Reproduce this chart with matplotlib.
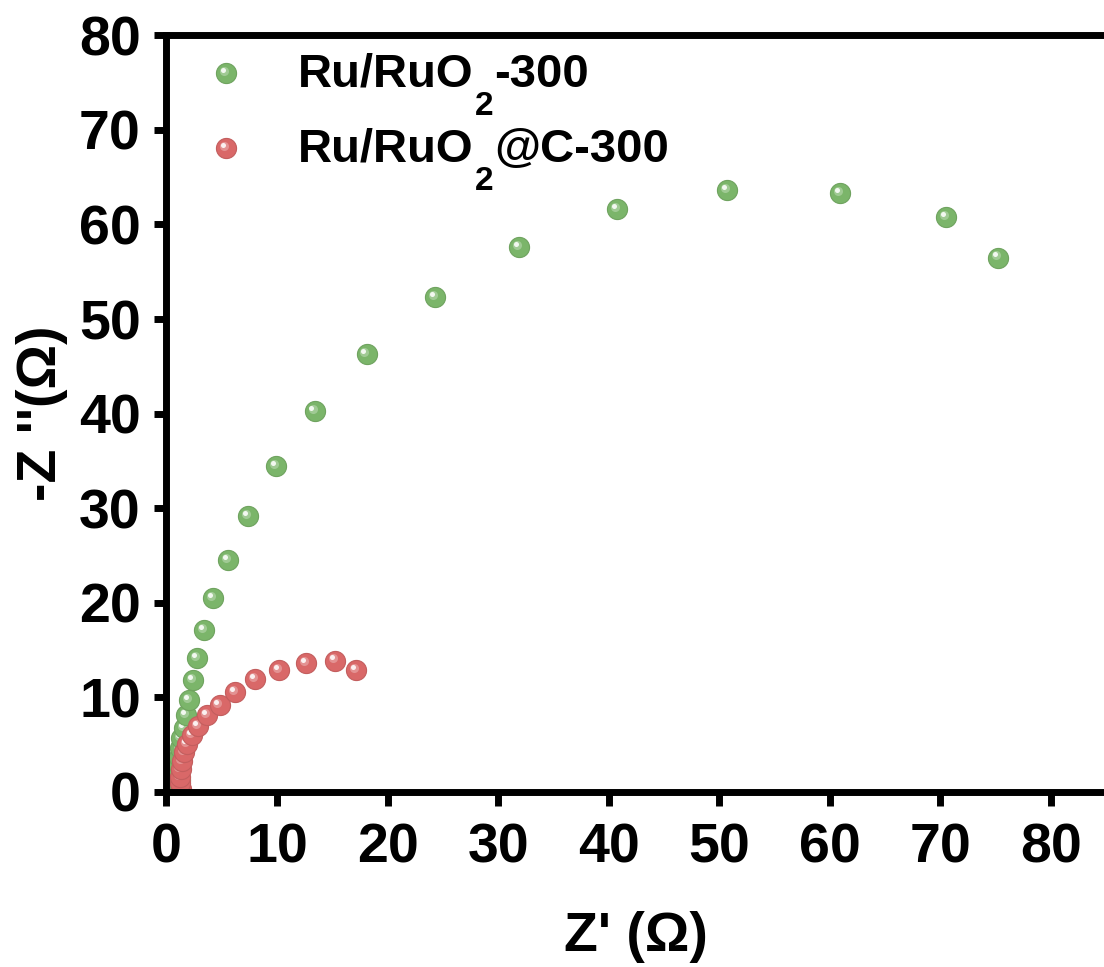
import numpy as np
import matplotlib
matplotlib.use("Agg")
import matplotlib.pyplot as plt
from matplotlib.transforms import ScaledTranslation, IdentityTransform
from matplotlib.colors import to_rgb

plt.rcParams['font.family'] = ['Liberation Sans', 'DejaVu Sans']
plt.rcParams['font.weight'] = 'bold'

# Nyquist data, Z' and -Z'' in ohm
ru_x = [1.22, 1.18, 1.16, 1.15, 1.17, 1.22, 1.35, 1.55, 1.8, 2.05, 2.38, 2.77,
        3.37, 4.25, 5.55, 7.35, 9.9, 13.4, 18.1, 24.3, 31.9, 40.8, 50.7, 60.9,
        70.5, 75.2]
ru_y = [0.5, 1.3, 2.1, 2.9, 3.7, 4.6, 5.7, 6.8, 8.1, 9.7, 11.8, 14.2,
        17.1, 20.5, 24.5, 29.2, 34.5, 40.3, 46.3, 52.3, 57.6, 61.6, 63.6, 63.3,
        60.8, 56.5]

ruc_x = [1.3, 1.26, 1.24, 1.27, 1.39, 1.57, 1.87, 2.29, 2.85, 3.7, 4.8, 6.24,
         8.0, 10.15, 12.6, 15.25, 17.15]
ruc_y = [0.3, 0.9, 1.55, 2.4, 3.3, 4.2, 5.05, 6.0, 7.0, 8.1, 9.2, 10.6,
         11.9, 12.9, 13.6, 13.9, 12.9]

# legend text split as (piece, is_subscript)
labels = [[('Ru/RuO', False), ('2', True), ('-300', False)],
          [('Ru/RuO', False), ('2', True), ('@C-300', False)]]
green = '#7bb56a'
red = '#d96868'

ticks = np.arange(0, 81, 10)
MS = 14.5


def lighten(c, f):
    r, g, b = to_rgb(c)
    return (r + (1 - r) * f, g + (1 - g) * f, b + (1 - b) * f)


def darken(c, f):
    r, g, b = to_rgb(c)
    return (r * (1 - f), g * (1 - f), b * (1 - f))


def ball(ax, x, y, col, ms, trans):
    # shaded sphere symbol: base disc, soft glow, specular spot
    fig = ax.figure
    k = ms / 14.0
    off1 = trans + ScaledTranslation(-0.02 * k, 0.02 * k, fig.dpi_scale_trans)
    off2 = trans + ScaledTranslation(-0.03 * k, 0.03 * k, fig.dpi_scale_trans)
    ax.plot(x, y, 'o', ms=ms, mfc=col, mec=darken(col, 0.1), mew=0.8,
            transform=trans, clip_on=True)
    ax.plot(x, y, 'o', ms=ms * 0.45, mfc=lighten(col, 0.4), mec='none',
            alpha=0.7, transform=off1, clip_on=True)
    ax.plot(x, y, 'o', ms=ms * 0.25, mfc=lighten(col, 0.9), mec='none',
            transform=off2, clip_on=True)


def rich_text(ax, x, y, parts, fs, sub_fs, drop):
    # baseline-aligned pieces, subscripts dropped by `drop` pixels
    fig = ax.figure
    r = fig.canvas.get_renderer()
    px, py = ax.transAxes.transform((x, y))
    for s, sub in parts:
        t = fig.text(px, py - (drop if sub else 0), s,
                     transform=IdentityTransform(),
                     fontsize=sub_fs if sub else fs, fontweight='bold',
                     va='baseline', ha='left')
        px = t.get_window_extent(r).x1 + 1


fig = plt.figure(figsize=(11.04, 9.67), dpi=100)
ax = fig.add_axes([0.1508, 0.1810, 1.0018 - 0.1508, 0.9635 - 0.1810])

for xs, ys, c in [(ru_x, ru_y, green), (ruc_x, ruc_y, red)]:
    for xi, yi in zip(xs, ys):
        ball(ax, xi, yi, c, MS, ax.transData)

ax.set_xlim(0, 85)
ax.set_ylim(0, 80)
ax.set_xticks(ticks)
ax.set_yticks(ticks)

for s in ax.spines.values():
    s.set_linewidth(5)
    s.set_zorder(5)

ax.tick_params(direction='out', width=5, labelsize=40, top=False, right=False)
ax.tick_params(axis='x', length=10, pad=12)
ax.tick_params(axis='y', length=9, pad=9.5)
for t in ax.get_xticklabels() + ax.get_yticklabels():
    t.set_fontweight('bold')

ax.set_xlabel("Z' (\u03a9)", fontsize=40, fontweight='bold', labelpad=26.5)
ax.set_ylabel("-Z ''(\u03a9)", fontsize=40, fontweight='bold', labelpad=8)

# legend drawn by hand
fig.canvas.draw()
for yk, yt, c, parts in [(0.950, 0.9317, green, labels[0]),
                         (0.851, 0.8326, red, labels[1])]:
    ball(ax, 0.0633, yk, c, MS, ax.transAxes)
    rich_text(ax, 0.1399, yt, parts, 34, 24, 28)

fig.savefig('out.png', dpi=100, facecolor='white')
